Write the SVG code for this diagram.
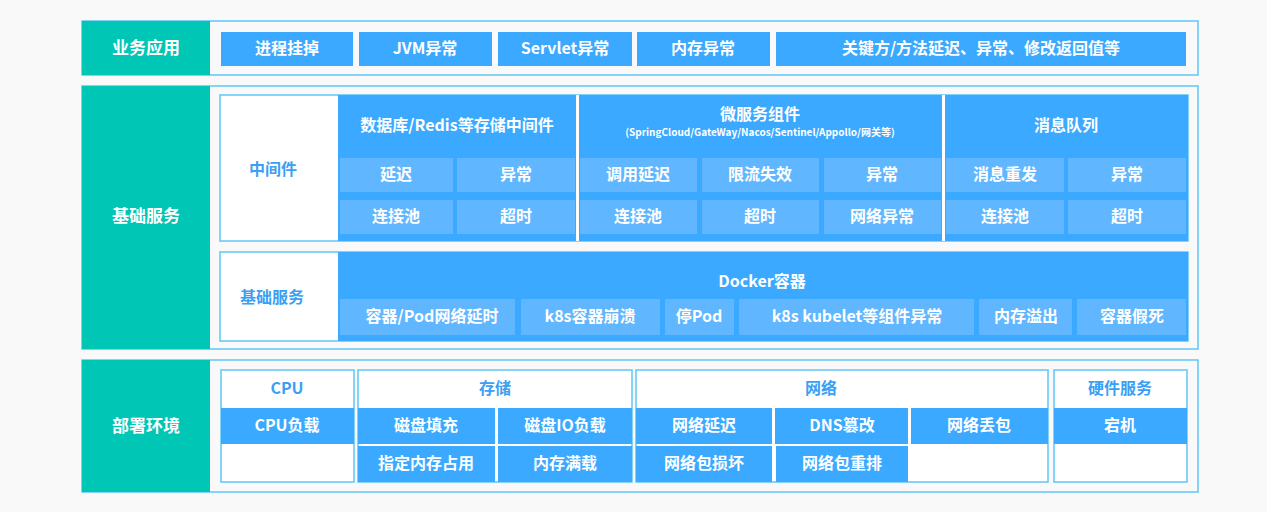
<svg xmlns="http://www.w3.org/2000/svg" width="1267" height="512" viewBox="0 0 1267 512">
<style>
text{font-family:"Noto Sans CJK SC","Noto Sans",sans-serif;font-weight:bold;text-anchor:middle;dominant-baseline:central;transform:translateY(-2px)}
.teal{fill:#00c6b6}
.panel{fill:#f9f9f9;stroke:#5fc6f5;stroke-width:1.5}
.b{fill:#3aa9ff}
.c{fill:#60b7ff}
.w{fill:#fff;stroke:#5fc6f5;stroke-width:1.5}
.t{fill:#fff;font-size:16px}
.h{fill:#fff;font-size:17px}
.l{fill:#3a9ff5;font-size:16px}
</style>
<rect width="1267" height="512" fill="#f9f9f9"/>
<g id="row-app">
<rect class="panel" x="82" y="21" width="1116" height="54"/>
<rect class="teal" x="82" y="21" width="128" height="54"/>
<text class="h" x="146" y="48">业务应用</text>
<rect class="b" x="221" y="32" width="132" height="34"/><text class="t" x="287" y="49">进程挂掉</text>
<rect class="b" x="359" y="32" width="133" height="34"/><text class="t" x="425" y="49">JVM异常</text>
<rect class="b" x="498" y="32" width="134" height="34"/><text class="t" x="565" y="49">Servlet异常</text>
<rect class="b" x="637" y="32" width="133" height="34"/><text class="t" x="703" y="49">内存异常</text>
<rect class="b" x="776" y="32" width="410" height="34"/><text class="t" x="981" y="49">关键方/方法延迟、异常、修改返回值等</text>
</g>
<g id="row-base">
<rect class="panel" x="82" y="86" width="1116" height="263"/>
<rect class="teal" x="82" y="86" width="128" height="263"/>
<text class="h" x="146" y="216">基础服务</text>
<rect class="w" x="220" y="95" width="968" height="146"/>
<text class="l" x="273" y="170">中间件</text>
<rect class="b" x="338" y="95" width="850" height="146"/>
<rect fill="#fff" x="576" y="95" width="3" height="146"/>
<rect fill="#fff" x="942" y="95" width="3" height="146"/>
<text class="t" x="457" y="126">数据库/Redis等存储中间件</text>
<text class="t" x="760" y="115">微服务组件</text>
<text x="760" y="133" fill="#fff" font-size="10">(SpringCloud/GateWay/Nacos/Sentinel/Appollo/网关等)</text>
<text class="t" x="1066" y="126">消息队列</text>
<rect class="c" x="340" y="158" width="113" height="34"/><text class="t" x="396" y="175">延迟</text>
<rect class="c" x="457" y="158" width="118" height="34"/><text class="t" x="516" y="175">异常</text>
<rect class="c" x="340" y="200" width="113" height="34"/><text class="t" x="396" y="217">连接池</text>
<rect class="c" x="457" y="200" width="118" height="34"/><text class="t" x="516" y="217">超时</text>
<rect class="c" x="580" y="158" width="117" height="34"/><text class="t" x="638" y="175">调用延迟</text>
<rect class="c" x="702" y="158" width="117" height="34"/><text class="t" x="760" y="175">限流失效</text>
<rect class="c" x="824" y="158" width="117" height="34"/><text class="t" x="882" y="175">异常</text>
<rect class="c" x="580" y="200" width="117" height="34"/><text class="t" x="638" y="217">连接池</text>
<rect class="c" x="702" y="200" width="117" height="34"/><text class="t" x="760" y="217">超时</text>
<rect class="c" x="824" y="200" width="117" height="34"/><text class="t" x="882" y="217">网络异常</text>
<rect class="c" x="946" y="158" width="118" height="34"/><text class="t" x="1005" y="175">消息重发</text>
<rect class="c" x="1068" y="158" width="118" height="34"/><text class="t" x="1127" y="175">异常</text>
<rect class="c" x="946" y="200" width="118" height="34"/><text class="t" x="1005" y="217">连接池</text>
<rect class="c" x="1068" y="200" width="118" height="34"/><text class="t" x="1127" y="217">超时</text>
<rect class="w" x="220" y="252" width="968" height="89"/>
<text class="l" x="272" y="298">基础服务</text>
<rect class="b" x="338" y="252" width="850" height="89"/>
<text class="t" x="762" y="282">Docker容器</text>
<rect class="c" x="340" y="299" width="175" height="36"/><text class="t" x="432" y="317">容器/Pod网络延时</text>
<rect class="c" x="521" y="299" width="139" height="36"/><text class="t" x="590" y="317">k8s容器崩溃</text>
<rect class="c" x="665" y="299" width="69" height="36"/><text class="t" x="699" y="317">停Pod</text>
<rect class="c" x="739" y="299" width="235" height="36"/><text class="t" x="857" y="317">k8s kubelet等组件异常</text>
<rect class="c" x="979" y="299" width="93" height="36"/><text class="t" x="1026" y="317">内存溢出</text>
<rect class="c" x="1077" y="299" width="109" height="36"/><text class="t" x="1132" y="317">容器假死</text>
</g>
<g id="row-env">
<rect class="panel" x="82" y="360" width="1116" height="132"/>
<rect class="teal" x="82" y="360" width="128" height="132"/>
<text class="h" x="146" y="426">部署环境</text>
<rect class="w" x="221" y="370" width="133" height="112"/>
<text class="l" x="287" y="389">CPU</text>
<rect class="b" x="221" y="408" width="133" height="36"/><text class="t" x="287" y="426">CPU负载</text>
<rect class="w" x="358" y="370" width="274" height="112"/>
<text class="l" x="495" y="389">存储</text>
<rect class="b" x="358" y="408" width="137" height="36"/><text class="t" x="426" y="426">磁盘填充</text>
<rect class="b" x="498" y="408" width="134" height="36"/><text class="t" x="565" y="426">磁盘IO负载</text>
<rect class="b" x="358" y="446" width="137" height="36"/><text class="t" x="426" y="464">指定内存占用</text>
<rect class="b" x="498" y="446" width="134" height="36"/><text class="t" x="565" y="464">内存满载</text>
<rect class="w" x="636" y="370" width="412" height="112"/>
<text class="l" x="821" y="389">网络</text>
<rect class="b" x="636" y="408" width="136" height="36"/><text class="t" x="704" y="426">网络延迟</text>
<rect class="b" x="775" y="408" width="133" height="36"/><text class="t" x="842" y="426">DNS篡改</text>
<rect class="b" x="911" y="408" width="137" height="36"/><text class="t" x="979" y="426">网络丢包</text>
<rect class="b" x="636" y="446" width="136" height="36"/><text class="t" x="704" y="464">网络包损坏</text>
<rect class="b" x="776" y="446" width="132" height="36"/><text class="t" x="842" y="464">网络包重排</text>
<rect class="w" x="1054" y="370" width="133" height="112"/>
<text class="l" x="1120" y="389">硬件服务</text>
<rect class="b" x="1054" y="408" width="133" height="36"/><text class="t" x="1120" y="426">宕机</text>
</g>
<g id="connectors"/>
</svg>
